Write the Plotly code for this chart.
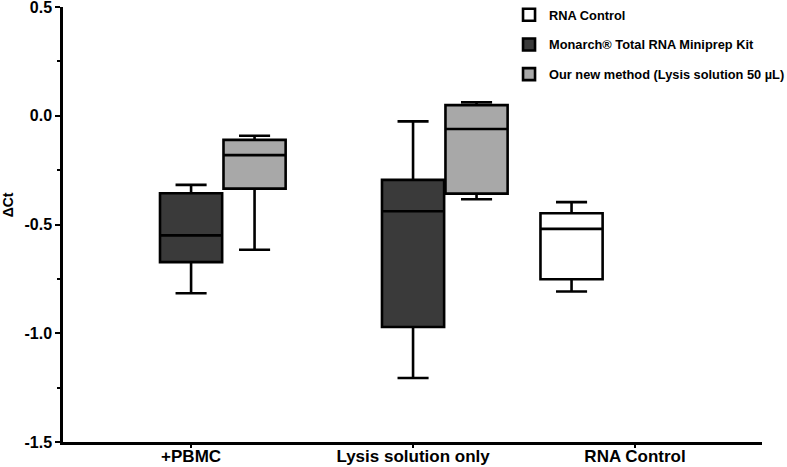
import plotly.graph_objects as go

# ---- data ----
categories = ["+PBMC", "Lysis solution only", "RNA Control"]

monarch_name = "Monarch® Total RNA Miniprep Kit"
monarch_lower = [-0.816, -1.206]
monarch_q1 = [-0.673, -0.971]
monarch_median = [-0.550, -0.439]
monarch_q3 = [-0.356, -0.295]
monarch_upper = [-0.318, -0.026]

new_name = "Our new method (Lysis solution 50 µL)"
new_lower = [-0.616, -0.384]
new_q1 = [-0.335, -0.358]
new_median = [-0.181, -0.061]
new_q3 = [-0.111, 0.049]
new_upper = [-0.092, 0.062]

ctrl_name = "RNA Control"
ctrl_lower = [-0.808]
ctrl_q1 = [-0.752]
ctrl_median = [-0.520]
ctrl_q3 = [-0.448]
ctrl_upper = [-0.397]

y_tickvals = [-1.5, -1.0, -0.5, 0.0, 0.5]
y_ticktext = ["-1.5", "-1.0", "-0.5", "0.0", "0.5"]

# ---- styling / layout ----
FONT = "Liberation Sans, Arial, Helvetica, sans-serif"
BOX_W = 0.28
OFFSET = 0.286
LINE = dict(color="black", width=2.6)

fig = go.Figure()

fig.add_trace(go.Box(
    name=ctrl_name, x=[2 - OFFSET],
    q1=ctrl_q1, median=ctrl_median, q3=ctrl_q3,
    lowerfence=ctrl_lower, upperfence=ctrl_upper,
    width=BOX_W, whiskerwidth=0.5, boxpoints=False,
    fillcolor="white", line=LINE, legendgroup="a",
))
fig.add_trace(go.Box(
    name=monarch_name, x=[0, 1],
    q1=monarch_q1, median=monarch_median, q3=monarch_q3,
    lowerfence=monarch_lower, upperfence=monarch_upper,
    width=BOX_W, whiskerwidth=0.5, boxpoints=False,
    fillcolor="#3a3a3a", line=LINE, legendgroup="b",
))
fig.add_trace(go.Box(
    name=new_name, x=[0 + OFFSET, 1 + OFFSET],
    q1=new_q1, median=new_median, q3=new_q3,
    lowerfence=new_lower, upperfence=new_upper,
    width=BOX_W, whiskerwidth=0.5, boxpoints=False,
    fillcolor="#a8a8a8", line=LINE, legendgroup="c",
))

fig.update_layout(
    width=787, height=467,
    margin=dict(l=63, r=25, t=7, b=25, autoexpand=False),
    paper_bgcolor="white", plot_bgcolor="white",
    boxmode="overlay",
    font=dict(family=FONT, color="black"),
    showlegend=True,
    legend=dict(
        xref="container", yref="container",
        x=0.6468, y=1.0, xanchor="left", yanchor="top",
        font=dict(family=FONT, size=12.8, weight="bold", color="black"),
        tracegroupgap=10, bgcolor="rgba(0,0,0,0)",
    ),
    annotations=[dict(
        text="ΔCt", xref="paper", yref="paper",
        x=-0.0775, y=0.546, xanchor="center", yanchor="middle",
        textangle=-90, showarrow=False,
        font=dict(family=FONT, size=14, weight="bold", color="black"),
    )],
)

fig.update_xaxes(
    range=[-0.577, 2.572], automargin=False,
    tickvals=[0, 1, 2], ticktext=categories,
    ticks="outside", ticklen=3, tickwidth=2, tickcolor="black",
    ticklabelstandoff=-6,
    showline=True, linewidth=2.5, linecolor="black",
    showgrid=False, zeroline=False,
    tickfont=dict(family=FONT, size=17, weight="bold", color="black"),
)
fig.update_yaxes(
    range=[-1.5, 0.5], automargin=False, ticklabeloverflow="allow",
    tickvals=y_tickvals, ticktext=y_ticktext,
    ticks="outside", ticklen=5, tickwidth=2, tickcolor="black",
    minor=dict(dtick=0.25, tick0=0, ticks="outside", ticklen=3, tickwidth=2, tickcolor="black", showgrid=False),
    showline=True, linewidth=2.5, linecolor="black",
    showgrid=False, zeroline=False,
    tickfont=dict(family=FONT, size=16, weight="bold", color="black"),
)

fig.write_html("out.html")
